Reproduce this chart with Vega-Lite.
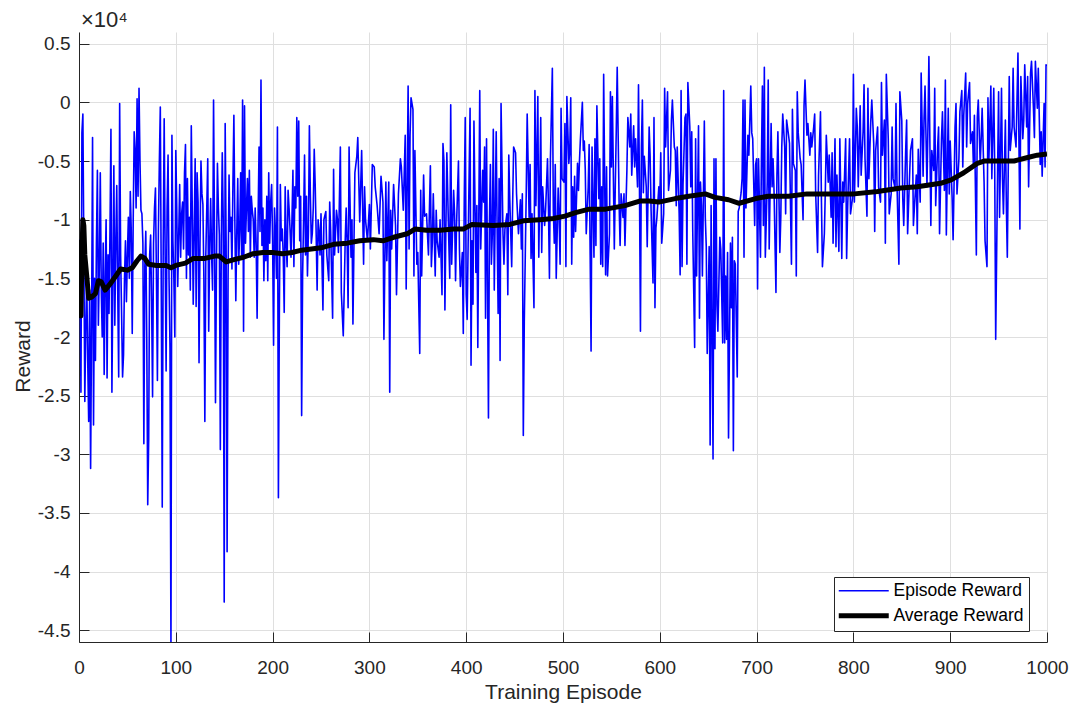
{
"$schema": "https://vega.github.io/schema/vega-lite/v6.json",
"width": 968,
"height": 610,
"autosize": "none",
"padding": {"left": 79, "top": 32, "right": 24, "bottom": 67},
"background": "white",
"config": {
  "view": {"stroke": null},
  "font": "Liberation Sans",
  "axis": {"domainColor": "#262626", "tickColor": "#262626", "labelColor": "#262626", "titleColor": "#262626", "labelFont": "Liberation Sans", "titleFont": "Liberation Sans", "labelFontSize": 19, "titleFontSize": 21, "titleFontWeight": "normal", "gridColor": "#dfdfdf", "gridOpacity": 1, "gridWidth": 1, "tickSize": -10, "domainWidth": 1, "tickWidth": 1},
  "legend": {"title": null, "orient": "none", "legendX": 755, "legendY": 545, "symbolType": "stroke", "symbolSize": 2500, "symbolOffset": 16, "labelFontSize": 17.5, "labelFont": "Liberation Sans", "labelColor": "#000000", "padding": 5, "rowPadding": 5, "strokeColor": "#262626", "strokeWidth": 1, "fillColor": "#ffffff", "labelOffset": 21, "symbolStrokeWidth": 1.5}
},
"datasets": {
"episodes": [
{"e":1,"r":-11700},{"e":2,"r":-24700},{"e":3,"r":-2600},{"e":4,"r":-1000},{"e":5,"r":-12500},{"e":6,"r":-25500},{"e":7,"r":-19000},{"e":8,"r":-15000},{"e":9,"r":-22000},{"e":10,"r":-27200},
{"e":11,"r":-16000},{"e":12,"r":-31200},{"e":13,"r":-19000},{"e":14,"r":-3000},{"e":15,"r":-27500},{"e":16,"r":-15000},{"e":17,"r":-22000},{"e":18,"r":-12000},{"e":19,"r":-5800},{"e":20,"r":-19000},
{"e":21,"r":-14000},{"e":22,"r":-6000},{"e":23,"r":-16000},{"e":24,"r":-20000},{"e":25,"r":-12000},{"e":26,"r":-23200},{"e":27,"r":-15000},{"e":28,"r":-10000},{"e":29,"r":-23500},{"e":30,"r":-13000},
{"e":31,"r":-18000},{"e":32,"r":-11000},{"e":33,"r":-2300},{"e":34,"r":-24700},{"e":35,"r":-15000},{"e":36,"r":-5400},{"e":37,"r":-19000},{"e":38,"r":-12000},{"e":39,"r":-7100},{"e":40,"r":-16000},
{"e":41,"r":-23400},{"e":42,"r":-100},{"e":43,"r":-13000},{"e":44,"r":-18000},{"e":45,"r":-23400},{"e":46,"r":-21500},{"e":47,"r":-15000},{"e":48,"r":-11800},{"e":49,"r":-17000},{"e":50,"r":-13000},
{"e":51,"r":-9800},{"e":52,"r":-15000},{"e":53,"r":-7600},{"e":54,"r":-11000},{"e":55,"r":-19700},{"e":56,"r":-10000},{"e":57,"r":-2500},{"e":58,"r":-4100},{"e":59,"r":-9000},{"e":60,"r":300},
{"e":61,"r":-8000},{"e":62,"r":1200},{"e":63,"r":-5000},{"e":64,"r":-9200},{"e":65,"r":-9500},{"e":66,"r":-12000},{"e":67,"r":-29100},{"e":68,"r":-14000},{"e":69,"r":-11000},{"e":70,"r":-20000},
{"e":71,"r":-34300},{"e":72,"r":-28700},{"e":73,"r":-13000},{"e":74,"r":-11300},{"e":75,"r":-17000},{"e":76,"r":-25100},{"e":77,"r":-12000},{"e":78,"r":-9000},{"e":79,"r":-7300},{"e":80,"r":-15000},
{"e":81,"r":-23700},{"e":82,"r":-11000},{"e":83,"r":-5100},{"e":84,"r":-400},{"e":85,"r":-16000},{"e":86,"r":-34500},{"e":87,"r":-12000},{"e":88,"r":-1400},{"e":89,"r":-13000},{"e":90,"r":-22900},
{"e":91,"r":-9000},{"e":92,"r":-4500},{"e":93,"r":-15000},{"e":94,"r":-21000},{"e":95,"r":-46500},{"e":96,"r":-2800},{"e":97,"r":-11800},{"e":98,"r":-15000},{"e":99,"r":-20000},{"e":100,"r":-4100},
{"e":101,"r":-9000},{"e":102,"r":-15700},{"e":103,"r":-11300},{"e":104,"r":-7000},{"e":105,"r":-13200},{"e":106,"r":-9500},{"e":107,"r":-8500},{"e":108,"r":-12500},{"e":109,"r":-6000},{"e":110,"r":-3600},
{"e":111,"r":-15000},{"e":112,"r":-6500},{"e":113,"r":-13000},{"e":114,"r":-9800},{"e":115,"r":-16000},{"e":116,"r":-2000},{"e":117,"r":-9000},{"e":118,"r":-17200},{"e":119,"r":-11000},{"e":120,"r":-4800},
{"e":121,"r":-17400},{"e":122,"r":-6000},{"e":123,"r":-8500},{"e":124,"r":-22200},{"e":125,"r":-12000},{"e":126,"r":-5000},{"e":127,"r":-7800},{"e":128,"r":-8700},{"e":129,"r":-15000},{"e":130,"r":-27200},
{"e":131,"r":-13000},{"e":132,"r":-9000},{"e":133,"r":-4800},{"e":134,"r":-19500},{"e":135,"r":-12000},{"e":136,"r":-8200},{"e":137,"r":-13000},{"e":138,"r":-16000},{"e":139,"r":200},{"e":140,"r":-11000},
{"e":141,"r":-25600},{"e":142,"r":-14000},{"e":143,"r":-5200},{"e":144,"r":-9000},{"e":145,"r":-11300},{"e":146,"r":-29600},{"e":147,"r":-12000},{"e":148,"r":-4300},{"e":149,"r":-10000},{"e":150,"r":-42600},
{"e":151,"r":-1800},{"e":152,"r":-12000},{"e":153,"r":-38300},{"e":154,"r":-15000},{"e":155,"r":-6200},{"e":156,"r":-11000},{"e":157,"r":-9800},{"e":158,"r":-14200},{"e":159,"r":-7000},{"e":160,"r":-1100},
{"e":161,"r":-10000},{"e":162,"r":-16900},{"e":163,"r":-11000},{"e":164,"r":-6500},{"e":165,"r":-13800},{"e":166,"r":-11000},{"e":167,"r":-6000},{"e":168,"r":-13000},{"e":169,"r":200},{"e":170,"r":-19500},
{"e":171,"r":-300},{"e":172,"r":-12000},{"e":173,"r":-9000},{"e":174,"r":-6500},{"e":175,"r":-11000},{"e":176,"r":-5800},{"e":177,"r":-13200},{"e":178,"r":-8000},{"e":179,"r":-9200},{"e":180,"r":-10000},
{"e":181,"r":-13200},{"e":182,"r":-9000},{"e":183,"r":-12000},{"e":184,"r":-18400},{"e":185,"r":-10000},{"e":186,"r":-3800},{"e":187,"r":-11000},{"e":188,"r":1900},{"e":189,"r":-12200},{"e":190,"r":-9000},
{"e":191,"r":-15200},{"e":192,"r":-10000},{"e":193,"r":-13500},{"e":194,"r":-8000},{"e":195,"r":-15200},{"e":196,"r":-6000},{"e":197,"r":-12000},{"e":198,"r":-8500},{"e":199,"r":-7000},{"e":200,"r":-11800},
{"e":201,"r":-20700},{"e":202,"r":-9000},{"e":203,"r":-11200},{"e":204,"r":-15000},{"e":205,"r":-2100},{"e":206,"r":-33700},{"e":207,"r":-17500},{"e":208,"r":-7000},{"e":209,"r":-11800},{"e":210,"r":-10800},
{"e":211,"r":-13000},{"e":212,"r":-17900},{"e":213,"r":-7200},{"e":214,"r":-12000},{"e":215,"r":-14000},{"e":216,"r":-7500},{"e":217,"r":-9000},{"e":218,"r":-10800},{"e":219,"r":-13200},{"e":220,"r":-10000},
{"e":221,"r":-5800},{"e":222,"r":-14000},{"e":223,"r":-7200},{"e":224,"r":-9000},{"e":225,"r":-1300},{"e":226,"r":-8000},{"e":227,"r":-1600},{"e":228,"r":-11800},{"e":229,"r":-8000},{"e":230,"r":-26700},
{"e":231,"r":-14800},{"e":232,"r":-10000},{"e":233,"r":-4500},{"e":234,"r":-13000},{"e":235,"r":-8000},{"e":236,"r":-14800},{"e":237,"r":-11000},{"e":238,"r":-2000},{"e":239,"r":-7800},{"e":240,"r":-12000},
{"e":241,"r":-11200},{"e":242,"r":-9000},{"e":243,"r":-4000},{"e":244,"r":-7000},{"e":245,"r":-11200},{"e":246,"r":-16000},{"e":247,"r":-10000},{"e":248,"r":-11000},{"e":249,"r":-13000},{"e":250,"r":-9500},
{"e":252,"r":-17700},{"e":253,"r":-10000},{"e":255,"r":-9300},{"e":256,"r":-13000},{"e":258,"r":-15200},{"e":259,"r":-8500},{"e":260,"r":-11000},{"e":262,"r":-18400},{"e":263,"r":-5700},{"e":264,"r":-13000},
{"e":266,"r":-9200},{"e":267,"r":-10000},{"e":268,"r":-12800},{"e":270,"r":-3800},{"e":271,"r":-16200},{"e":273,"r":-19900},{"e":275,"r":-11800},{"e":276,"r":-9000},{"e":277,"r":-12000},{"e":278,"r":-17500},
{"e":279,"r":-3800},{"e":281,"r":-13200},{"e":282,"r":-10000},{"e":283,"r":-18900},{"e":285,"r":-6000},{"e":287,"r":-4600},{"e":288,"r":-3000},{"e":290,"r":-10200},{"e":292,"r":-4100},{"e":294,"r":-13800},
{"e":295,"r":-7200},{"e":296,"r":-10000},{"e":298,"r":-11800},{"e":300,"r":-8700},{"e":301,"r":-12500},{"e":303,"r":-5300},{"e":305,"r":-5500},{"e":306,"r":-7200},{"e":308,"r":-8800},{"e":310,"r":-11200},
{"e":312,"r":-6300},{"e":314,"r":-8500},{"e":315,"r":-20200},{"e":317,"r":-6800},{"e":318,"r":-13500},{"e":320,"r":-6800},{"e":321,"r":-24700},{"e":322,"r":-9200},{"e":323,"r":-12500},{"e":325,"r":-7000},
{"e":327,"r":-10500},{"e":328,"r":-16400},{"e":330,"r":-7800},{"e":332,"r":-4800},{"e":333,"r":-5500},{"e":335,"r":-9200},{"e":337,"r":-2800},{"e":338,"r":-15900},{"e":340,"r":1400},{"e":341,"r":-12500},
{"e":342,"r":-2800},{"e":343,"r":400},{"e":345,"r":-600},{"e":346,"r":-14800},{"e":347,"r":-4100},{"e":349,"r":-13800},{"e":350,"r":-12800},{"e":352,"r":-21400},{"e":353,"r":-7500},{"e":354,"r":-14800},
{"e":356,"r":-6200},{"e":357,"r":-9700},{"e":359,"r":-9500},{"e":361,"r":-13000},{"e":363,"r":-5400},{"e":364,"r":-14000},{"e":365,"r":-12000},{"e":366,"r":-7800},{"e":368,"r":-14800},{"e":369,"r":-9200},
{"e":370,"r":-11800},{"e":372,"r":-13200},{"e":373,"r":-10000},{"e":375,"r":-16400},{"e":376,"r":-3500},{"e":377,"r":-5000},{"e":378,"r":-17700},{"e":380,"r":-4300},{"e":382,"r":-11800},{"e":383,"r":-15000},
{"e":384,"r":-200},{"e":385,"r":-13800},{"e":387,"r":-7500},{"e":388,"r":-9500},{"e":389,"r":-15200},{"e":390,"r":-10500},{"e":392,"r":-5000},{"e":393,"r":-12500},{"e":394,"r":-15700},{"e":396,"r":-12800},
{"e":397,"r":-19700},{"e":398,"r":-8200},{"e":399,"r":-1300},{"e":400,"r":-16400},{"e":401,"r":-18500},{"e":402,"r":-12000},{"e":404,"r":-500},{"e":405,"r":-22400},{"e":406,"r":-11800},{"e":407,"r":-17200},
{"e":408,"r":-1600},{"e":410,"r":-14500},{"e":411,"r":-8800},{"e":412,"r":-20900},{"e":414,"r":1000},{"e":415,"r":-12500},{"e":417,"r":-5800},{"e":418,"r":-8500},{"e":419,"r":-3800},{"e":420,"r":-18400},
{"e":421,"r":-3100},{"e":423,"r":-26900},{"e":424,"r":-10200},{"e":425,"r":-5300},{"e":426,"r":-13800},{"e":427,"r":-11200},{"e":428,"r":-2300},{"e":429,"r":-16000},{"e":431,"r":-2500},{"e":432,"r":-11200},
{"e":433,"r":-18000},{"e":434,"r":-6500},{"e":435,"r":-22000},{"e":436,"r":-100},{"e":438,"r":-11200},{"e":439,"r":-13800},{"e":440,"r":-10800},{"e":442,"r":-9500},{"e":443,"r":-16400},{"e":444,"r":-4500},
{"e":445,"r":-8200},{"e":447,"r":-14000},{"e":448,"r":-8500},{"e":449,"r":-3800},{"e":451,"r":-4300},{"e":452,"r":-7800},{"e":454,"r":-11200},{"e":456,"r":-8300},{"e":457,"r":-12500},{"e":458,"r":-7800},
{"e":459,"r":-28400},{"e":460,"r":-18700},{"e":462,"r":-7800},{"e":463,"r":-1000},{"e":465,"r":-9800},{"e":466,"r":-5300},{"e":467,"r":-13300},{"e":468,"r":-9500},{"e":470,"r":-17500},{"e":471,"r":1000},
{"e":472,"r":-8800},{"e":474,"r":500},{"e":475,"r":-13200},{"e":477,"r":-1300},{"e":478,"r":-12800},{"e":479,"r":-7200},{"e":481,"r":-10500},{"e":482,"r":-9200},{"e":484,"r":-4800},{"e":485,"r":-9200},
{"e":486,"r":-15000},{"e":487,"r":-4800},{"e":489,"r":2900},{"e":490,"r":-9200},{"e":491,"r":-12000},{"e":492,"r":-5300},{"e":493,"r":-15000},{"e":495,"r":-7300},{"e":496,"r":-9800},{"e":497,"r":-13800},
{"e":498,"r":-500},{"e":499,"r":-6500},{"e":501,"r":-6800},{"e":502,"r":-1800},{"e":503,"r":-14000},{"e":504,"r":500},{"e":506,"r":-5200},{"e":507,"r":-4100},{"e":508,"r":400},{"e":509,"r":-13800},
{"e":510,"r":-7200},{"e":511,"r":-11500},{"e":512,"r":-6300},{"e":513,"r":-11000},{"e":515,"r":-5200},{"e":516,"r":-7500},{"e":517,"r":-5000},{"e":518,"r":-3100},{"e":520,"r":0},{"e":521,"r":-4100},
{"e":522,"r":-3300},{"e":523,"r":-5700},{"e":524,"r":-11200},{"e":526,"r":-7300},{"e":527,"r":-3600},{"e":529,"r":-21200},{"e":530,"r":-3800},{"e":532,"r":-13200},{"e":533,"r":-3100},{"e":534,"r":-12200},
{"e":535,"r":-300},{"e":537,"r":-8200},{"e":538,"r":-4800},{"e":539,"r":-13800},{"e":540,"r":-7200},{"e":541,"r":-14000},{"e":542,"r":2400},{"e":544,"r":-14700},{"e":545,"r":-5500},{"e":546,"r":-14800},
{"e":548,"r":-11200},{"e":549,"r":900},{"e":550,"r":-5500},{"e":551,"r":500},{"e":553,"r":-12500},{"e":554,"r":-7200},{"e":555,"r":-2500},{"e":556,"r":3000},{"e":558,"r":-8800},{"e":559,"r":-12200},
{"e":560,"r":-7800},{"e":562,"r":-9800},{"e":563,"r":-7800},{"e":564,"r":-12200},{"e":566,"r":-5800},{"e":567,"r":-1300},{"e":569,"r":-3800},{"e":570,"r":-1000},{"e":571,"r":-6200},{"e":573,"r":-2000},
{"e":574,"r":-5500},{"e":575,"r":-3100},{"e":577,"r":-7200},{"e":578,"r":1500},{"e":579,"r":-7200},{"e":580,"r":-19500},{"e":581,"r":-3800},{"e":582,"r":200},{"e":583,"r":-7700},{"e":584,"r":-4600},
{"e":586,"r":-7200},{"e":587,"r":-12300},{"e":589,"r":-2100},{"e":590,"r":-4600},{"e":591,"r":-9200},{"e":593,"r":-15400},{"e":594,"r":-1300},{"e":595,"r":-17500},{"e":596,"r":-10700},{"e":597,"r":-9800},
{"e":599,"r":-7200},{"e":600,"r":-8500},{"e":601,"r":-4300},{"e":602,"r":-12000},{"e":604,"r":-9500},{"e":605,"r":1200},{"e":606,"r":-3800},{"e":608,"r":900},{"e":609,"r":-7500},{"e":611,"r":-5800},
{"e":612,"r":-1500},{"e":613,"r":200},{"e":615,"r":-3800},{"e":616,"r":-4100},{"e":617,"r":-8800},{"e":618,"r":-3800},{"e":620,"r":-9500},{"e":621,"r":-14700},{"e":622,"r":1000},{"e":623,"r":-14000},
{"e":624,"r":-7000},{"e":626,"r":-1300},{"e":627,"r":-1000},{"e":628,"r":-13800},{"e":629,"r":1700},{"e":631,"r":-2100},{"e":632,"r":-7200},{"e":633,"r":-2500},{"e":634,"r":-10800},{"e":636,"r":-20900},
{"e":637,"r":-3100},{"e":638,"r":-14800},{"e":640,"r":-2000},{"e":641,"r":-18400},{"e":642,"r":-6800},{"e":643,"r":-8800},{"e":644,"r":-14800},{"e":646,"r":-1600},{"e":647,"r":-9800},{"e":648,"r":-12300},
{"e":649,"r":-21400},{"e":651,"r":-12300},{"e":652,"r":-29200},{"e":653,"r":-8800},{"e":655,"r":-30400},{"e":656,"r":-4800},{"e":657,"r":-21000},{"e":658,"r":-4800},{"e":659,"r":-17200},{"e":660,"r":-19500},
{"e":662,"r":-11500},{"e":663,"r":-12500},{"e":665,"r":-20500},{"e":666,"r":1000},{"e":667,"r":-20500},{"e":668,"r":-14800},{"e":669,"r":-20200},{"e":670,"r":-12800},{"e":671,"r":-28600},{"e":673,"r":-12000},
{"e":674,"r":-17500},{"e":675,"r":-11500},{"e":676,"r":-29700},{"e":677,"r":-13500},{"e":678,"r":-13800},{"e":680,"r":-23400},{"e":681,"r":-9300},{"e":682,"r":-9000},{"e":684,"r":-7700},{"e":685,"r":-6500},
{"e":686,"r":200},{"e":687,"r":-13200},{"e":688,"r":200},{"e":689,"r":-9000},{"e":691,"r":-2800},{"e":692,"r":-4500},{"e":694,"r":1400},{"e":695,"r":-2600},{"e":696,"r":-3100},{"e":698,"r":-10500},
{"e":699,"r":-5300},{"e":700,"r":-4800},{"e":701,"r":-15900},{"e":702,"r":-4800},{"e":704,"r":-13200},{"e":705,"r":-4800},{"e":706,"r":1400},{"e":707,"r":-10500},{"e":708,"r":3000},{"e":709,"r":-13200},
{"e":711,"r":-6800},{"e":712,"r":1900},{"e":713,"r":-12500},{"e":715,"r":-1800},{"e":716,"r":-7200},{"e":717,"r":-4800},{"e":718,"r":-7500},{"e":720,"r":-16200},{"e":721,"r":-6200},{"e":722,"r":-2500},
{"e":724,"r":-12800},{"e":725,"r":-9800},{"e":726,"r":-3800},{"e":727,"r":-1000},{"e":729,"r":-3800},{"e":730,"r":-9500},{"e":731,"r":-1500},{"e":733,"r":-2800},{"e":734,"r":-3500},{"e":736,"r":-13800},
{"e":737,"r":-600},{"e":738,"r":-5200},{"e":740,"r":-5800},{"e":741,"r":-14800},{"e":742,"r":900},{"e":743,"r":-2600},{"e":745,"r":-4800},{"e":746,"r":-5300},{"e":748,"r":-10000},{"e":749,"r":-300},
{"e":750,"r":1900},{"e":752,"r":-2800},{"e":753,"r":-1800},{"e":755,"r":-4500},{"e":756,"r":-2600},{"e":757,"r":-3800},{"e":759,"r":-2100},{"e":760,"r":-1000},{"e":761,"r":-7700},{"e":763,"r":-12800},
{"e":764,"r":-6200},{"e":766,"r":-800},{"e":767,"r":-8500},{"e":768,"r":-14000},{"e":770,"r":-11200},{"e":771,"r":-7500},{"e":772,"r":-2800},{"e":774,"r":-6800},{"e":775,"r":-4500},{"e":777,"r":-9800},
{"e":778,"r":-4300},{"e":779,"r":-12000},{"e":781,"r":-3100},{"e":782,"r":-12300},{"e":783,"r":-6200},{"e":785,"r":-12700},{"e":786,"r":-3100},{"e":788,"r":-13300},{"e":789,"r":-6800},{"e":790,"r":-8500},
{"e":792,"r":-3100},{"e":793,"r":-13300},{"e":794,"r":-9200},{"e":796,"r":-3100},{"e":797,"r":-9500},{"e":799,"r":-8200},{"e":800,"r":2400},{"e":801,"r":-8500},{"e":803,"r":-500},{"e":804,"r":-2100},
{"e":805,"r":-7200},{"e":807,"r":-300},{"e":808,"r":-6200},{"e":810,"r":-2500},{"e":811,"r":1500},{"e":812,"r":-4800},{"e":814,"r":-9700},{"e":815,"r":1200},{"e":816,"r":-6500},{"e":818,"r":-1500},
{"e":819,"r":200},{"e":821,"r":-3500},{"e":822,"r":-11000},{"e":823,"r":-4100},{"e":825,"r":-2100},{"e":826,"r":-7200},{"e":828,"r":-8500},{"e":829,"r":1700},{"e":830,"r":-4500},{"e":832,"r":-1500},
{"e":833,"r":-12000},{"e":834,"r":2400},{"e":836,"r":-3100},{"e":837,"r":-9500},{"e":839,"r":-7800},{"e":840,"r":-2100},{"e":841,"r":-6500},{"e":843,"r":-7300},{"e":844,"r":-100},{"e":845,"r":-6800},
{"e":847,"r":-13800},{"e":848,"r":900},{"e":850,"r":-1600},{"e":851,"r":-8200},{"e":852,"r":-10500},{"e":854,"r":-4100},{"e":855,"r":-1500},{"e":856,"r":-11200},{"e":858,"r":-6300},{"e":859,"r":-4100},
{"e":861,"r":-3100},{"e":862,"r":-10500},{"e":863,"r":-9000},{"e":865,"r":-6200},{"e":866,"r":-11200},{"e":867,"r":-4000},{"e":869,"r":-8500},{"e":870,"r":2500},{"e":872,"r":-6300},{"e":873,"r":-1300},
{"e":874,"r":1400},{"e":876,"r":-7200},{"e":877,"r":-2100},{"e":878,"r":3900},{"e":880,"r":-10500},{"e":881,"r":-4100},{"e":883,"r":-5800},{"e":884,"r":1200},{"e":885,"r":-8800},{"e":887,"r":-3800},
{"e":888,"r":-2100},{"e":889,"r":-11200},{"e":891,"r":-3100},{"e":892,"r":-800},{"e":894,"r":-7500},{"e":895,"r":1900},{"e":896,"r":-11300},{"e":898,"r":-500},{"e":899,"r":-7800},{"e":900,"r":-3300},
{"e":902,"r":-8200},{"e":903,"r":-11700},{"e":905,"r":-2100},{"e":906,"r":-100},{"e":907,"r":-7800},{"e":909,"r":-4800},{"e":910,"r":-800},{"e":912,"r":1000},{"e":913,"r":-5500},{"e":914,"r":-1100},
{"e":916,"r":2500},{"e":917,"r":-3800},{"e":918,"r":-100},{"e":920,"r":1700},{"e":921,"r":-3500},{"e":923,"r":-2500},{"e":924,"r":-5500},{"e":925,"r":-1100},{"e":927,"r":-13000},{"e":928,"r":-1300},
{"e":929,"r":200},{"e":931,"r":-5200},{"e":932,"r":-3100},{"e":933,"r":-500},{"e":935,"r":-6800},{"e":936,"r":-11800},{"e":938,"r":-14000},{"e":939,"r":400},{"e":940,"r":-4800},{"e":942,"r":1400},
{"e":943,"r":-6500},{"e":945,"r":1200},{"e":946,"r":-5800},{"e":947,"r":-20200},{"e":949,"r":-5500},{"e":950,"r":900},{"e":951,"r":-9800},{"e":953,"r":1200},{"e":954,"r":-6500},{"e":955,"r":-9500},
{"e":957,"r":-1500},{"e":958,"r":-8800},{"e":959,"r":-13200},{"e":961,"r":2200},{"e":962,"r":-4100},{"e":964,"r":-2100},{"e":965,"r":2900},{"e":966,"r":-2100},{"e":968,"r":-3800},{"e":969,"r":200},
{"e":970,"r":4200},{"e":972,"r":-10800},{"e":973,"r":2200},{"e":975,"r":-3100},{"e":976,"r":-1500},{"e":977,"r":3200},{"e":979,"r":-2100},{"e":980,"r":2200},{"e":981,"r":-7200},{"e":983,"r":2500},
{"e":984,"r":3500},{"e":986,"r":-500},{"e":987,"r":-3000},{"e":988,"r":3500},{"e":990,"r":-500},{"e":991,"r":2900},{"e":993,"r":-5300},{"e":994,"r":-2500},{"e":995,"r":-6300},{"e":997,"r":-100},
{"e":998,"r":-5500},{"e":999,"r":3200},{"e":1000,"r":3100}
],
"average": [
{"e":1,"r":-11700},{"e":2,"r":-18200},{"e":3,"r":-13000},{"e":4,"r":-10000},{"e":5,"r":-10500},{"e":6,"r":-13000},{"e":8,"r":-14800},{"e":10,"r":-16700},{"e":13,"r":-16600},{"e":17,"r":-16300},
{"e":20,"r":-15200},{"e":23,"r":-15300},{"e":27,"r":-16000},{"e":32,"r":-15500},{"e":38,"r":-14800},{"e":43,"r":-14200},{"e":50,"r":-14300},{"e":55,"r":-14100},{"e":60,"r":-13500},{"e":64,"r":-13100},
{"e":68,"r":-13300},{"e":72,"r":-13800},{"e":80,"r":-13900},{"e":90,"r":-13900},{"e":95,"r":-14100},{"e":100,"r":-13900},{"e":110,"r":-13700},{"e":118,"r":-13300},{"e":130,"r":-13300},{"e":140,"r":-13100},
{"e":145,"r":-13100},{"e":152,"r":-13600},{"e":160,"r":-13400},{"e":170,"r":-13200},{"e":180,"r":-12900},{"e":190,"r":-12800},{"e":200,"r":-12800},{"e":210,"r":-12900},{"e":220,"r":-12800},{"e":230,"r":-12600},
{"e":240,"r":-12500},{"e":250,"r":-12400},{"e":263,"r":-12100},{"e":277,"r":-12000},{"e":290,"r":-11800},{"e":304,"r":-11700},{"e":314,"r":-11800},{"e":325,"r":-11500},{"e":339,"r":-11200},{"e":347,"r":-10800},
{"e":359,"r":-10900},{"e":373,"r":-10900},{"e":387,"r":-10800},{"e":397,"r":-10800},{"e":406,"r":-10400},{"e":428,"r":-10500},{"e":445,"r":-10400},{"e":459,"r":-10100},{"e":476,"r":-10000},{"e":490,"r":-9900},
{"e":502,"r":-9700},{"e":513,"r":-9400},{"e":527,"r":-9100},{"e":544,"r":-9100},{"e":564,"r":-8800},{"e":580,"r":-8400},{"e":589,"r":-8400},{"e":599,"r":-8500},{"e":616,"r":-8200},{"e":630,"r":-8000},
{"e":647,"r":-7800},{"e":657,"r":-8100},{"e":671,"r":-8300},{"e":682,"r":-8600},{"e":699,"r":-8200},{"e":712,"r":-8000},{"e":733,"r":-8000},{"e":752,"r":-7800},{"e":773,"r":-7800},{"e":801,"r":-7800},
{"e":825,"r":-7600},{"e":849,"r":-7300},{"e":866,"r":-7200},{"e":890,"r":-6900},{"e":901,"r":-6600},{"e":914,"r":-6000},{"e":928,"r":-5200},{"e":935,"r":-5000},{"e":949,"r":-5000},{"e":966,"r":-5000},
{"e":980,"r":-4700},{"e":990,"r":-4500},{"e":1000,"r":-4400}
],
"multiplier": [{"e":0,"r":6000,"t":"×10⁴"}]
},
"layer": [
  {
    "data": {"name": "episodes"},
    "mark": {"type": "line", "clip": true, "strokeWidth": 1.6, "strokeJoin": "round"},
    "encoding": {
      "x": {"field": "e", "type": "quantitative", "scale": {"domain": [0, 1000], "nice": false, "zero": false},
            "axis": {"values": [0,100,200,300,400,500,600,700,800,900,1000], "format": "d", "labelFlush": false, "labelOverlap": false, "labelPadding": 26, "title": "Training Episode", "titleBaseline": "alphabetic", "titleY": 56, "grid": true}},
      "y": {"field": "r", "type": "quantitative", "scale": {"domain": [-46000, 6000], "nice": false, "zero": false},
            "axis": {"values": [-45000,-40000,-35000,-30000,-25000,-20000,-15000,-10000,-5000,0,5000], "labelExpr": "datum.value / 10000 + ''", "labelPadding": 19, "labelOverlap": false, "title": "Reward", "titleBaseline": "alphabetic", "titleX": -50, "titleY": 324, "grid": true}},
      "color": {"datum": "Episode Reward", "type": "nominal",
                "scale": {"domain": ["Episode Reward", "Average Reward"], "range": ["#0000ff", "#000000"]},
                "legend": {"encode": {"symbols": {"update": {"strokeWidth": {"signal": "datum.value === 'Average Reward' ? 5 : 1.5"}}}}}}
    }
  },
  {
    "data": {"name": "average"},
    "mark": {"type": "line", "clip": true, "strokeWidth": 5, "strokeJoin": "round"},
    "encoding": {
      "x": {"field": "e", "type": "quantitative"},
      "y": {"field": "r", "type": "quantitative"},
      "color": {"datum": "Average Reward", "type": "nominal"}
    }
  },
  {
    "data": {"name": "multiplier"},
    "mark": {"type": "text", "align": "left", "baseline": "alphabetic", "dx": 2, "dy": -5, "fontSize": 22, "font": "Liberation Sans", "color": "#262626"},
    "encoding": {
      "x": {"field": "e", "type": "quantitative"},
      "y": {"field": "r", "type": "quantitative"},
      "text": {"field": "t"}
    }
  }
]
}
